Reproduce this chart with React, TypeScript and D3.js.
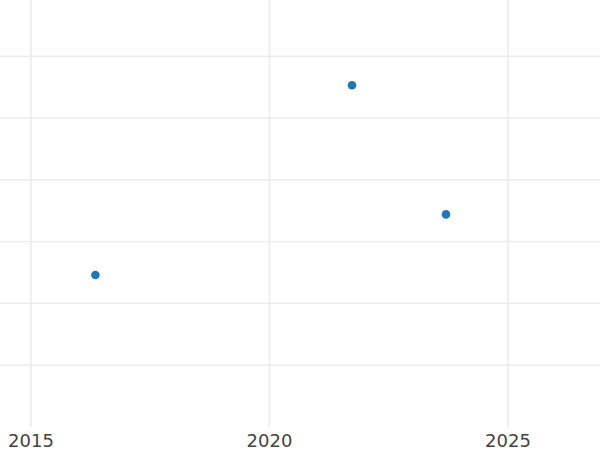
import React from "react";
import * as d3 from "d3";

const years = [2016.35, 2021.73, 2023.7];
const values = [2.46, 5.53, 3.44];
const xTicks = [2015, 2020, 2025];
const yTicks = [1, 2, 3, 4, 5, 6];

export default function App() {
  const W = 600, H = 450;
  const x = d3.scaleLinear().domain([2015, 2025]).range([31, 508]);
  const y = d3.scaleLinear().domain([0, 1]).range([427, 365.2]);
  return (
    <svg width={W} height={H} style={{ position: "absolute", left: 0, top: 0, background: "#fff" }}>
      {yTicks.map((t) => (
        <line key={t} x1={0} x2={W} y1={y(t)} y2={y(t)} stroke="#ebebeb" strokeWidth={1.4} />
      ))}
      {xTicks.map((t) => (
        <line key={t} x1={x(t)} x2={x(t)} y1={0} y2={427} stroke="#ebebeb" strokeWidth={1.6} />
      ))}
      {xTicks.map((t) => (
        <text key={t} x={x(t)} y={447} textAnchor="middle" fontFamily="DejaVu Sans" fontSize={18} fill="#444">
          {t}
        </text>
      ))}
      {years.map((yr, i) => (
        <circle key={i} cx={x(yr)} cy={y(values[i])} r={4.3} fill="#1f77b4" />
      ))}
    </svg>
  );
}
